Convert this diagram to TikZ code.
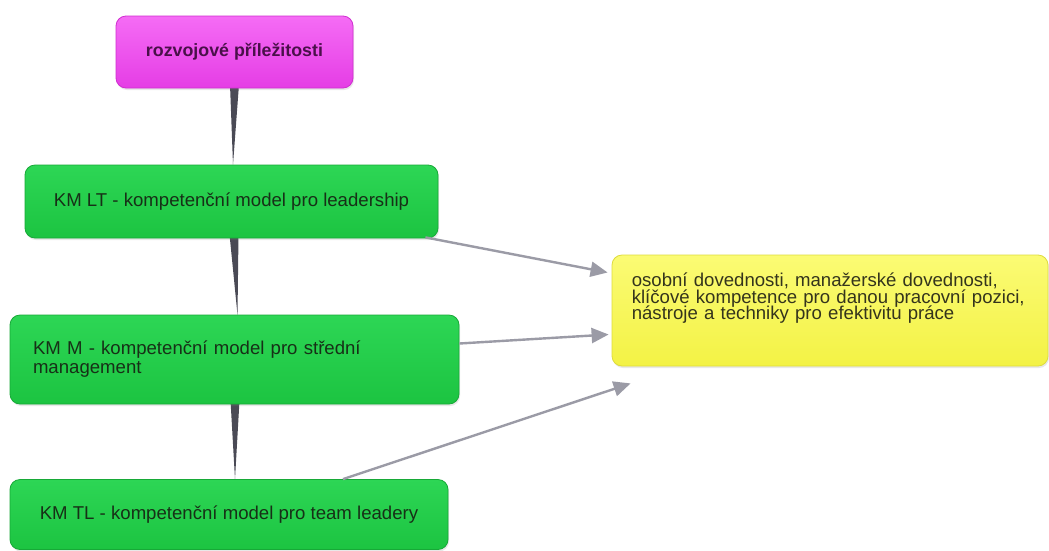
\documentclass[tikz,border=0pt]{standalone}
\usepackage{fontspec}
\setmainfont{Liberation Sans}
\usetikzlibrary{arrows.meta,shadows,backgrounds}
\definecolor{magtop}{HTML}{F56CF5}
\definecolor{magbot}{HTML}{E53DE5}
\definecolor{magline}{HTML}{D02ED0}
\definecolor{grtop}{HTML}{2DD655}
\definecolor{grbot}{HTML}{1CC441}
\definecolor{grline}{HTML}{17A937}
\definecolor{yetop}{HTML}{FBFB74}
\definecolor{yebot}{HTML}{F3F245}
\definecolor{yeline}{HTML}{DEDC3C}
\definecolor{wedgecol}{HTML}{4A4A55}
\definecolor{arrowcol}{HTML}{9B9BA6}
\definecolor{grtext}{HTML}{173017}
\definecolor{yetext}{HTML}{34341C}
\definecolor{magtext}{HTML}{4A104A}
\newcommand\mytightls{\lineskiplimit=-30pt\relax}
\tikzset{
  box/.style={rounded corners=10pt, line width=0.8pt, inner sep=0pt,
    drop shadow={opacity=0.18, shadow xshift=1pt, shadow yshift=-2pt}},
  magbox/.style={box, draw=magline, top color=magtop, bottom color=magbot,
    text=magtext, font=\fontsize{17.8}{20}\selectfont\bfseries},
  grbox/.style={box, draw=grline, top color=grtop, bottom color=grbot,
    text=grtext, font=\fontsize{18.6}{19}\selectfont\mytightls},
  yebox/.style={box, draw=yeline, top color=yetop, bottom color=yebot},
  yetextstyle/.style={inner sep=0pt, text=yetext, align=left, text width=405pt,
    font=\fontsize{18.6}{16.7}\selectfont\mytightls},
  wedge/.style={fill=wedgecol},
  link/.style={draw=arrowcol, line width=2.4pt,
    -{Triangle[length=17pt,width=15pt]}},
}
\begin{document}
\begin{tikzpicture}[x=1pt,y=-1pt]
\useasboundingbox (0,0) rectangle (1049,550);

\node[magbox, minimum width=237pt, minimum height=72pt] (top) at (234.5,52) {\raisebox{-2pt}{rozvojové příležitosti}};
\node[grbox, minimum width=413pt, minimum height=73pt] (lt) at (231.5,201.5) {KM LT - kompetenční model pro leadership};
\node[grbox, minimum width=449pt, minimum height=89pt, text width=403pt, align=left] (m) at (234.5,359.5) {\raisebox{-3pt}{KM M - kompetenční model pro střední}\\\raisebox{-3pt}{management}};
\node[grbox, minimum width=438pt, minimum height=70pt] (tl) at (229,514.5) {KM TL - kompetenční model pro team leadery};
\node[yebox, minimum width=436pt, minimum height=111pt] (res) at (830,310.5) {};
\node[yetextstyle, anchor=north west] (restext) at ([xshift=20pt,yshift=-18pt]res.north west) {osobní dovednosti, manažerské dovednosti,\\klíčové kompetence pro danou pracovní pozici,\\nástroje a techniky pro efektivitu práce};

\begin{scope}[on background layer]
  \fill[white] (0,0) rectangle (1049,550);
  \fill[wedge] ([xshift=-4.5pt,yshift=4pt]top.south) -- ([xshift=4.5pt,yshift=4pt]top.south) -- ([xshift=1.5pt]lt.north) -- cycle;
  \fill[wedge] ([xshift=-2pt,yshift=4pt]lt.south) -- ([xshift=7pt,yshift=4pt]lt.south) -- ([xshift=3pt]m.north) -- cycle;
  \fill[wedge] ([xshift=-4pt,yshift=4pt]m.south) -- ([xshift=5pt,yshift=4pt]m.south) -- ([xshift=6pt]tl.north) -- cycle;
\end{scope}

\draw[link] ([xshift=-13pt,yshift=1pt]lt.south east) -- ([xshift=-4pt,yshift=38pt]res.west);
\draw[link] ([yshift=16pt]m.east) -- ([xshift=-3pt,yshift=-24pt]res.west);
\draw[link] ([xshift=114pt]tl.north) -- ([xshift=19pt,yshift=-17pt]res.south west);
\end{tikzpicture}
\end{document}
